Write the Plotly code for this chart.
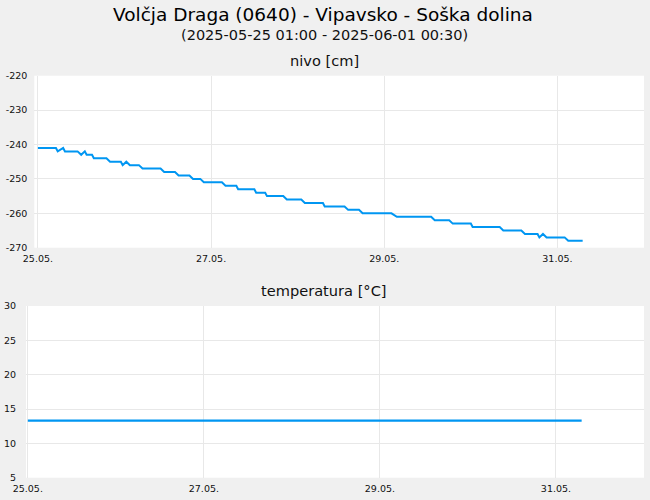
import plotly.graph_objects as go

# ---- data ----
nivo_time = [
    "2025-05-25 00:00", "2025-05-25 05:00", "2025-05-25 05:30", "2025-05-25 07:00",
    "2025-05-25 07:30", "2025-05-25 11:00", "2025-05-25 12:00", "2025-05-25 13:00",
    "2025-05-25 13:30", "2025-05-25 15:00", "2025-05-25 15:30", "2025-05-25 19:00",
    "2025-05-25 20:00", "2025-05-25 23:00", "2025-05-25 23:30", "2025-05-26 00:30",
    "2025-05-26 01:30", "2025-05-26 04:00", "2025-05-26 05:00", "2025-05-26 10:00",
    "2025-05-26 11:00", "2025-05-26 14:00", "2025-05-26 15:00", "2025-05-26 18:00",
    "2025-05-26 19:00", "2025-05-26 21:00", "2025-05-26 22:00", "2025-05-27 03:00",
    "2025-05-27 04:00", "2025-05-27 07:00", "2025-05-27 07:30", "2025-05-27 12:00",
    "2025-05-27 12:30", "2025-05-27 15:00", "2025-05-27 15:30", "2025-05-27 20:00",
    "2025-05-27 21:00", "2025-05-28 01:00", "2025-05-28 02:00", "2025-05-28 07:00",
    "2025-05-28 07:30", "2025-05-28 13:00", "2025-05-28 14:00", "2025-05-28 17:00",
    "2025-05-28 18:00", "2025-05-29 02:00", "2025-05-29 03:30", "2025-05-29 13:00",
    "2025-05-29 14:00", "2025-05-29 18:00", "2025-05-29 19:00", "2025-05-30 00:00",
    "2025-05-30 00:30", "2025-05-30 08:00", "2025-05-30 09:00", "2025-05-30 14:00",
    "2025-05-30 15:00", "2025-05-30 18:30", "2025-05-30 19:00", "2025-05-30 20:00",
    "2025-05-30 21:00", "2025-05-31 02:00", "2025-05-31 03:00", "2025-05-31 07:00",
]
nivo_value = [
    -241, -241, -242, -241,
    -242, -242, -243, -242,
    -243, -243, -244, -244,
    -245, -245, -246, -245,
    -246, -246, -247, -247,
    -248, -248, -249, -249,
    -250, -250, -251, -251,
    -252, -252, -253, -253,
    -254, -254, -255, -255,
    -256, -256, -257, -257,
    -258, -258, -259, -259,
    -260, -260, -261, -261,
    -262, -262, -263, -263,
    -264, -264, -265, -265,
    -266, -266, -267, -266,
    -267, -267, -268, -268,
]
temp_time = ["2025-05-25 00:00", "2025-05-31 07:00"]
temp_value = [13.3, 13.3]

title_main = "Volčja Draga (0640) - Vipavsko - Soška dolina"
title_sub = "(2025-05-25 01:00 - 2025-06-01 00:30)"
title_nivo = "nivo [cm]"
title_temp = "temperatura [°C]"

nivo_ticks = [-270, -260, -250, -240, -230, -220]
nivo_ticktext = ["-270", "-260", "-250", "-240", "-230", "-220"]
temp_ticks = [5, 10, 15, 20, 25, 30]

W, H = 650, 500
LINE = "#0096f2"
GRID = "#e8e8e8"
BG = "#f0f0f0"
FONT = "DejaVu Sans"

fig = go.Figure()
fig.add_trace(go.Scatter(x=nivo_time, y=nivo_value, mode="lines",
                         line=dict(color=LINE, width=2), xaxis="x", yaxis="y",
                         showlegend=False, hoverinfo="skip"))
fig.add_trace(go.Scatter(x=temp_time, y=temp_value, mode="lines",
                         line=dict(color=LINE, width=2.2), xaxis="x2", yaxis="y2",
                         showlegend=False, hoverinfo="skip"))

tickfont = dict(family=FONT, size=9.5, color="#111")
xcommon = dict(type="date", tickformat="%d.%m.", dtick=2 * 86400000,
               tick0="2025-05-25", showgrid=True, gridcolor=GRID, gridwidth=1,
               zeroline=False, showline=False, ticks="", tickfont=tickfont,
               automargin=False, ticklabelstandoff=4)
ycommon = dict(showgrid=True, gridcolor=GRID, gridwidth=1, zeroline=False,
               showline=False, ticks="", tickfont=tickfont, automargin=False)

fig.update_layout(
    width=W, height=H,
    margin=dict(l=0, r=0, t=0, b=0),
    paper_bgcolor=BG, plot_bgcolor="white",
    font=dict(family=FONT, color="#111"),
    xaxis=dict(xcommon, domain=[34.3 / W, 644 / W],
               range=["2025-05-24 23:00", "2025-06-01 00:00"], anchor="y"),
    yaxis=dict(ycommon, domain=[1 - 247.7 / H, 1 - 75.7 / H], range=[-270, -220],
               tickvals=nivo_ticks, ticktext=nivo_ticktext, ticklabelstandoff=6,
               anchor="x"),
    xaxis2=dict(xcommon, domain=[26 / W, 644 / W],
                range=["2025-05-24 23:30", "2025-06-01 00:00"], anchor="y2"),
    yaxis2=dict(ycommon, domain=[1 - 477.7 / H, 1 - 306 / H], range=[5, 30],
                tickvals=temp_ticks, ticklabelstandoff=9, anchor="x2"),
    annotations=[
        dict(text=title_main, x=323 / W, y=1 - 14 / H, xref="paper", yref="paper",
             showarrow=False, font=dict(family=FONT, size=18.5, color="#000"),
             xanchor="center", yanchor="middle"),
        dict(text=title_sub, x=324 / W, y=1 - 35 / H, xref="paper", yref="paper",
             showarrow=False, font=dict(family=FONT, size=14.5, color="#111"),
             xanchor="center", yanchor="middle"),
        dict(text=title_nivo, x=324 / W, y=1 - 60 / H, xref="paper", yref="paper",
             showarrow=False, font=dict(family=FONT, size=14.6, color="#111"),
             xanchor="center", yanchor="middle"),
        dict(text=title_temp, x=324 / W, y=1 - 290 / H, xref="paper", yref="paper",
             showarrow=False, font=dict(family=FONT, size=14.6, color="#111"),
             xanchor="center", yanchor="middle"),
    ],
)

fig.write_html("out.html", config={"displayModeBar": False},
               post_script="document.body.style.margin='0px';"
                           "document.body.style.overflow='hidden';")
